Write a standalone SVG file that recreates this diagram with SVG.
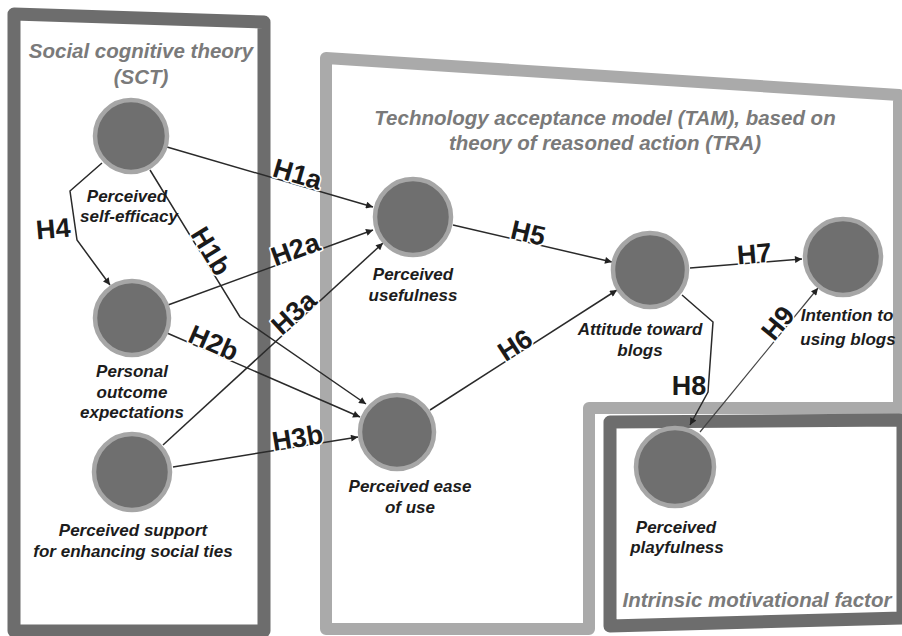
<svg xmlns="http://www.w3.org/2000/svg" width="902" height="636" viewBox="0 0 902 636">
<defs>
<marker id="arr" viewBox="0 0 10 10" refX="10" refY="5" markerWidth="9" markerHeight="7" markerUnits="userSpaceOnUse" orient="auto"><path d="M0,0 L10,5 L0,10 z" fill="#222"/></marker>
<style>
.frameD{fill:none;stroke:#6d6d6d;stroke-width:13;stroke-linejoin:round}
.frameL{fill:none;stroke:#aaaaaa;stroke-width:12;stroke-linejoin:round}
.node circle{fill:#6f6f6f;stroke:#a6a6a6;stroke-width:4.5}
.title{font-family:"Liberation Sans",Arial,sans-serif;font-weight:bold;font-style:italic;font-size:20.5px;fill:#7a7a7a;text-anchor:middle}
.lab{font-family:"Liberation Sans",Arial,sans-serif;font-weight:bold;font-style:italic;font-size:17px;fill:#1c1c1c;text-anchor:middle}
.conn path{fill:none;stroke:#2a2a2a;stroke-width:1.5;marker-end:url(#arr)}
.h{font-family:"Liberation Sans",Arial,sans-serif;font-weight:bold;font-size:27px;fill:#1a1a1a;text-anchor:middle;stroke:#fff;stroke-width:3;paint-order:stroke;stroke-linejoin:round}
</style>
</defs>
<rect width="902" height="636" fill="#fff"/>

<g id="frames">
<path class="frameD" d="M14,14 L264,22 L264,631 L14,631 Z"/>
<path class="frameL" d="M326,58 L899,95 L899,408 L589,408 L589,629 L326,629 Z"/>
<path class="frameD" d="M610,422 L903,420 L903,618 L610,626 Z"/>
</g>

<g id="titles">
<text class="title" x="141" y="58">Social cognitive theory</text>
<text class="title" x="141" y="84">(SCT)</text>
<text class="title" x="605" y="125">Technology acceptance model (TAM), based on</text>
<text class="title" x="605" y="150">theory of reasoned action (TRA)</text>
<text class="title" x="757" y="607">Intrinsic motivational factor</text>
</g>

<g id="connectors" class="conn">
<path d="M167,147 L373,207"/>
<path d="M150,170 L240,317 L366,404"/>
<path d="M168,305 L373,230"/>
<path d="M167,333 L360,417"/>
<path d="M163,445 L383,243"/>
<path d="M173,467 L358,437"/>
<path d="M102,163 L70,191 L77,240 L110,285"/>
<path d="M453,225 L612,262"/>
<path d="M430,410 L617,290"/>
<path d="M690,268 L802,259"/>
<path d="M682,295 L713,322 L708,392 L690,425"/>
<path d="M700,432 L818,288" style="stroke-width:1.2;stroke:#444"/>
</g>

<g id="hlabels">
<text class="h" transform="translate(295,183) rotate(16.3)">H1a</text>
<text class="h" transform="translate(203,256) rotate(58.5)">H1b</text>
<text class="h" transform="translate(298.5,258) rotate(-20.1)">H2a</text>
<text class="h" transform="translate(210,351.5) rotate(23.5)">H2b</text>
<text class="h" transform="translate(300,319.5) rotate(-42.6)">H3a</text>
<text class="h" transform="translate(299,447) rotate(-9.3)">H3b</text>
<text class="h" transform="translate(54,238) rotate(-5)">H4</text>
<text class="h" transform="translate(526,242) rotate(13.1)">H5</text>
<text class="h" transform="translate(520,353) rotate(-32.7)">H6</text>
<text class="h" transform="translate(755,263) rotate(-4.6)">H7</text>
<text class="h" transform="translate(689,395)">H8</text>
<text class="h" transform="translate(785,329) rotate(-50.7)">H9</text>
</g>

<g id="n-selfefficacy" class="node">
<circle cx="131" cy="136" r="36"/>
<text class="lab" x="127" y="202">Perceived</text>
<text class="lab" x="129" y="222">self-efficacy</text>
</g>
<g id="n-outcome" class="node">
<circle cx="132" cy="318" r="37"/>
<text class="lab" x="132" y="377">Personal</text>
<text class="lab" x="132" y="398">outcome</text>
<text class="lab" x="132" y="418">expectations</text>
</g>
<g id="n-support" class="node">
<circle cx="132" cy="472" r="38"/>
<text class="lab" x="133" y="536">Perceived support</text>
<text class="lab" x="133" y="557">for enhancing social ties</text>
</g>
<g id="n-usefulness" class="node">
<circle cx="413" cy="217" r="38"/>
<text class="lab" x="413" y="280">Perceived</text>
<text class="lab" x="413" y="301">usefulness</text>
</g>
<g id="n-ease" class="node">
<circle cx="397" cy="432" r="37"/>
<text class="lab" x="410" y="492">Perceived ease</text>
<text class="lab" x="410" y="513">of use</text>
</g>
<g id="n-attitude" class="node">
<circle cx="650" cy="270" r="37"/>
<text class="lab" x="640" y="335">Attitude toward</text>
<text class="lab" x="640" y="356">blogs</text>
</g>
<g id="n-intention" class="node">
<circle cx="843" cy="257" r="38"/>
<text class="lab" x="847" y="321">Intention to</text>
<text class="lab" x="848" y="345">using blogs</text>
</g>
<g id="n-playfulness" class="node">
<circle cx="675" cy="467" r="39"/>
<text class="lab" x="676" y="533">Perceived</text>
<text class="lab" x="677" y="553">playfulness</text>
</g>
</svg>
